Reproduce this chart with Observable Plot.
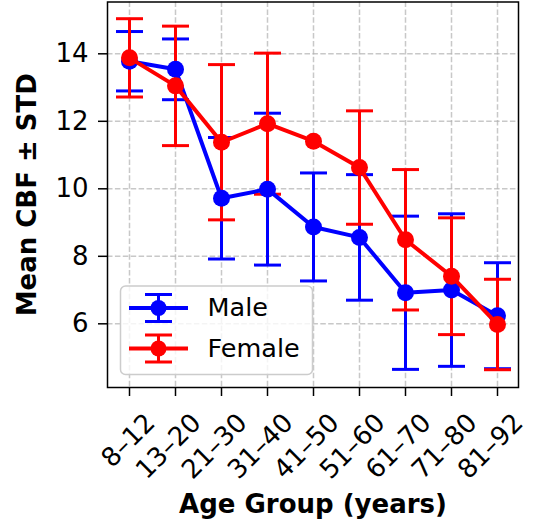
<!DOCTYPE html>
<html>
<head>
<meta charset="utf-8">
<script src="https://cdn.jsdelivr.net/npm/d3@7"></script>
<script src="https://cdn.jsdelivr.net/npm/@observablehq/plot@0.6"></script>
<style>
  body { margin: 0; background: #fff; }
  #chart svg { display: block; }
</style>
</head>
<body>
<div id="chart"></div>
<script>
// ---- data ----
const ageGroups = ["8–12", "13–20", "21–30", "31–40", "41–50", "51–60", "61–70", "71–80", "81–92"];
const maleMean   = [13.78, 13.54, 9.72, 9.99, 8.87, 8.56, 6.92, 7.00, 6.24];
const maleStd    = [0.88, 0.90, 1.80, 2.25, 1.60, 1.86, 2.27, 2.26, 1.57];
const femaleMean = [13.88, 13.05, 11.38, 11.93, 11.41, 10.63, 8.49, 7.41, 5.98];
const femaleStd  = [1.16, 1.77, 2.30, 2.09, null, 1.68, 2.08, 1.73, 1.34];
const yTicks = [6, 8, 10, 12, 14];
const seriesNames = ["Male", "Female"];
const seriesColors = ["blue", "red"];
const xLabel = "Age Group (years)";
const yLabel = "Mean CBF ± STD";

const seriesMeans = [maleMean, femaleMean];
const seriesStds = [maleStd, femaleStd];
const series = seriesNames.map((name, k) => ({
  name, color: seriesColors[k],
  rows: ageGroups.map((g, i) => ({group: g, mean: seriesMeans[k][i], sd: seriesStds[k][i]}))
}));

// symbols: error-bar cap, legend handle line, legend error bar
const cap = {draw(ctx) { ctx.moveTo(-13.5, 0); ctx.lineTo(13.5, 0); }};
const hline = {draw(ctx) { ctx.moveTo(-29.5, 0); ctx.lineTo(29.5, 0); }};
const ibeam = {draw(ctx) {
  ctx.moveTo(0, -13.4); ctx.lineTo(0, 13.4);
  ctx.moveTo(-13.5, -13.4); ctx.lineTo(13.5, -13.4);
  ctx.moveTo(-13.5, 13.4); ctx.lineTo(13.5, 13.4);
}};

const gridStyle = {stroke: "#b0b0b0", strokeOpacity: 0.7, strokeWidth: 1.5, strokeDasharray: "5.5,2.4"};

const marks = [
  Plot.gridX(ageGroups, gridStyle),
  Plot.gridY(yTicks, gridStyle)
];

// error bars (all below the data lines, as in matplotlib)
for (const s of series) {
  const bars = s.rows.filter(d => d.sd != null);
  marks.push(
    Plot.ruleX(bars, {x: "group", y1: d => d.mean - d.sd, y2: d => d.mean + d.sd, stroke: s.color, strokeWidth: 3}),
    Plot.dot(bars, {x: "group", y: d => d.mean - d.sd, symbol: cap, fill: "none", stroke: s.color, strokeWidth: 3}),
    Plot.dot(bars, {x: "group", y: d => d.mean + d.sd, symbol: cap, fill: "none", stroke: s.color, strokeWidth: 3})
  );
}
for (const s of series) {
  marks.push(
    Plot.line(s.rows, {x: "group", y: "mean", stroke: s.color, strokeWidth: 4}),
    Plot.dot(s.rows, {x: "group", y: "mean", fill: s.color, r: 8.5})
  );
}

marks.push(Plot.frame({stroke: "black", strokeWidth: 1.5}));

// legend
marks.push(Plot.frame({fill: "white", fillOpacity: 0.8, stroke: "#cccccc", strokeWidth: 1.5, rx: 5,
  insetLeft: 13, insetRight: 206, insetTop: 284, insetBottom: 13}));
series.forEach((s, k) => {
  const dy = 306 + k * 40.5;
  marks.push(
    Plot.dot([s.name], {frameAnchor: "top-left", dx: 51, dy, symbol: ibeam, fill: "none", stroke: s.color, strokeWidth: 3}),
    Plot.dot([s.name], {frameAnchor: "top-left", dx: 51, dy, symbol: hline, fill: "none", stroke: s.color, strokeWidth: 4}),
    Plot.dot([s.name], {frameAnchor: "top-left", dx: 51, dy, r: 8, fill: s.color}),
    Plot.text([s.name], {text: d => d, frameAnchor: "top-left", dx: 100, dy, textAnchor: "start", lineAnchor: "middle", fontSize: 25.5, fill: "black"})
  );
});

// axes and labels
marks.push(
  Plot.axisY({ticks: yTicks, tickSize: 9, tickPadding: 10, fontSize: 26, strokeWidth: 1.5, label: null}),
  Plot.axisX({tickSize: 9, fill: "none", strokeWidth: 1.5, label: null}),
  Plot.axisX({tickSize: 9, stroke: "none", tickRotate: -45, tickPadding: 22, dx: 21, fontSize: 26, label: null}),
  Plot.text([yLabel], {text: d => d, frameAnchor: "left", dx: -80, rotate: -90, textAnchor: "middle", lineAnchor: "middle", fontSize: 26, fontWeight: "bold"}),
  Plot.text([xLabel], {text: d => d, frameAnchor: "bottom", dy: 117, textAnchor: "middle", lineAnchor: "middle", fontSize: 26, fontWeight: "bold"})
);

const chart = Plot.plot({
  width: 541,
  height: 527,
  marginLeft: 107,
  marginRight: 23,
  marginTop: 1.5,
  marginBottom: 140,
  style: {fontFamily: "DejaVu Sans", background: "white", color: "black"},
  x: {type: "point", domain: ageGroups, padding: 0.4, label: null},
  y: {domain: [4.113, 15.535], label: null},
  marks
});
document.getElementById("chart").appendChild(chart);
</script>
</body>
</html>
